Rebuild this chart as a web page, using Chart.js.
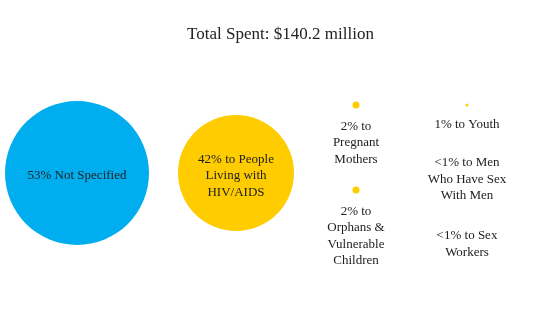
<!DOCTYPE html>
<html>
<head>
<meta charset="utf-8">
<script src="https://cdn.jsdelivr.net/npm/chart.js@4/dist/chart.umd.min.js"></script>
<style>
  html, body { margin: 0; padding: 0; background: #fff; }
  #wrap { width: 545px; height: 328px; }
</style>
</head>
<body>
<div id="wrap"><canvas id="myChart"></canvas></div>
<script>
// categories and values
const labels = [
  ["53% Not Specified"],
  ["42% to People", "Living with", "HIV/AIDS"],
  ["2% to", "Pregnant", "Mothers"],
  ["2% to", "Orphans &", "Vulnerable", "Children"],
  ["1% to Youth"],
  ["<1% to Men", "Who Have Sex", "With Men"],
  ["<1% to Sex", "Workers"]
];
const xPos = [77, 236, 356, 356, 467, 467, 467];
const yPos = [173, 173, 105, 190, 105, 145, 218];
const radius = [72, 58, 3.5, 3.5, 1.5, 0, 0];
const colors = ["#00adef", "#ffcc00", "#ffcc00", "#ffcc00", "#ffcc00", "#ffcc00", "#ffcc00"];

const fontFamily = "'Liberation Serif', 'DejaVu Serif', serif";

const bubbleLabels = {
  id: 'bubbleLabels',
  afterDatasetsDraw(chart) {
    const c = chart.ctx;
    const meta = chart.getDatasetMeta(0);
    c.save();
    c.font = "13px " + fontFamily;
    c.fillStyle = "#222";
    c.textAlign = "center";
    c.textBaseline = "middle";
    const lh = 16.5;
    meta.data.forEach((pt, i) => {
      const lines = labels[i];
      const r = radius[i];
      let y0;
      if (r > 20) {
        y0 = pt.y + 3 - (lines.length - 1) * lh / 2;
      } else {
        y0 = pt.y + r + 18;
      }
      lines.forEach((t, j) => c.fillText(t, pt.x, y0 + j * lh));
    });
    c.restore();
  }
};

const points = xPos.map((x, i) => ({ x: x, y: yPos[i], r: radius[i] }));

new Chart(document.getElementById('myChart'), {
  type: 'bubble',
  data: {
    datasets: [{
      data: points,
      backgroundColor: colors,
      borderWidth: 0,
      hoverRadius: 0,
      clip: false
    }]
  },
  options: {
    responsive: true,
    maintainAspectRatio: false,
    animation: false,
    events: [],
    layout: { padding: { left: 16, right: 0, top: 0, bottom: 0 }, autoPadding: false },
    plugins: {
      legend: { display: false },
      tooltip: { enabled: false },
      title: {
        display: true,
        text: "Total Spent: $140.2 million",
        color: "#222",
        font: { family: fontFamily, size: 17, weight: 'normal', lineHeight: 1.2 },
        padding: { top: 24, bottom: 0 }
      }
    },
    scales: {
      x: { type: 'linear', min: 16, max: 545, display: false },
      y: { type: 'linear', min: 44.4, max: 328, reverse: true, display: false }
    }
  },
  plugins: [bubbleLabels]
});
</script>
</body>
</html>
